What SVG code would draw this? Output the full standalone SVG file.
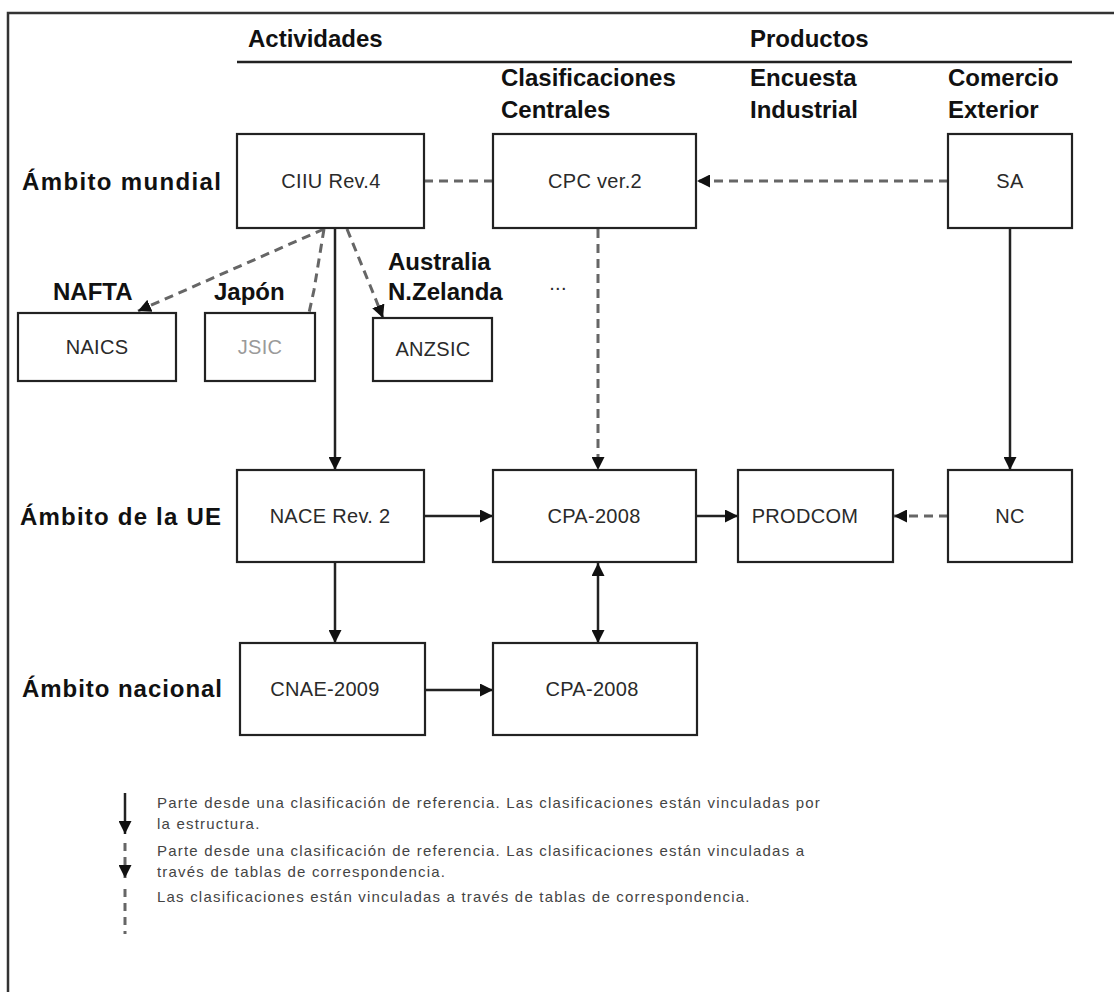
<svg xmlns="http://www.w3.org/2000/svg" width="1114" height="992" viewBox="0 0 1114 992">
<style>
.frame{stroke:#333;stroke-width:2.5;fill:none}
.box{fill:#fff;stroke:#222;stroke-width:2.2}
.nt{font-family:"Liberation Sans",Arial,sans-serif;font-size:20px;fill:#2a2a2a;text-anchor:middle;letter-spacing:0.3px}
.bl{font-family:"Liberation Sans",Arial,sans-serif;font-size:24px;font-weight:bold;fill:#111}
.lg{font-family:"Liberation Sans",Arial,sans-serif;font-size:15px;fill:#444;letter-spacing:1.2px}
.sol{stroke:#222;stroke-width:2.5;fill:none}
.dsh{stroke:#666;stroke-width:3;fill:none;stroke-dasharray:9 6}
</style>
<defs>
<marker id="ah" viewBox="0 0 10 10" refX="10" refY="5" markerWidth="13" markerHeight="13" markerUnits="userSpaceOnUse" orient="auto-start-reverse">
<path d="M0,0 L10,5 L0,10 z" fill="#111"/>
</marker>
</defs>
<rect width="1114" height="992" fill="#fff"/>
<g id="frame">
<path class="frame" d="M8,992 L8,13 L1114,13"/>
</g>
<g id="headers">
<text class="bl" x="248" y="47">Actividades</text>
<text class="bl" x="750" y="47">Productos</text>
<line x1="237" y1="62" x2="1072" y2="62" stroke="#222" stroke-width="2.5"/>
<text class="bl" x="501" y="86">Clasificaciones</text>
<text class="bl" x="501" y="118">Centrales</text>
<text class="bl" x="750" y="86">Encuesta</text>
<text class="bl" x="750" y="118">Industrial</text>
<text class="bl" x="948" y="86">Comercio</text>
<text class="bl" x="948" y="118">Exterior</text>
</g>
<g id="row-labels">
<text class="bl" x="22" y="190" textLength="199">Ámbito mundial</text>
<text class="bl" x="20" y="525" textLength="201">Ámbito de la UE</text>
<text class="bl" x="22" y="697" textLength="200">Ámbito nacional</text>
<text class="bl" x="53" y="300">NAFTA</text>
<text class="bl" x="214" y="300">Japón</text>
<text class="bl" x="388" y="270">Australia</text>
<text class="bl" x="388" y="300">N.Zelanda</text>
<text class="nt" x="558" y="290">...</text>
</g>
<g id="connectors">
<line class="dsh" x1="424" y1="181" x2="493" y2="181"/>
<line class="dsh" x1="948" y1="181" x2="697" y2="181" marker-end="url(#ah)"/>
<line class="dsh" x1="598" y1="229" x2="598" y2="470" marker-end="url(#ah)"/>
<line class="sol" x1="1010" y1="229" x2="1010" y2="470" marker-end="url(#ah)"/>
<line class="sol" x1="335" y1="229" x2="335" y2="470" marker-end="url(#ah)"/>
<line class="dsh" x1="324" y1="229" x2="138" y2="311" marker-end="url(#ah)"/>
<path class="dsh" d="M324,229 L314,290 L309,313"/>
<path class="dsh" d="M347,229 L376,300 L383,318" marker-end="url(#ah)"/>
<line class="sol" x1="424" y1="516" x2="493" y2="516" marker-end="url(#ah)"/>
<line class="sol" x1="696" y1="516" x2="738" y2="516" marker-end="url(#ah)"/>
<line class="dsh" x1="948" y1="516" x2="894" y2="516" marker-end="url(#ah)"/>
<line class="sol" x1="335" y1="562" x2="335" y2="643" marker-end="url(#ah)"/>
<line class="sol" x1="598" y1="563" x2="598" y2="643" marker-start="url(#ah)" marker-end="url(#ah)"/>
<line class="sol" x1="425" y1="690" x2="493" y2="690" marker-end="url(#ah)"/>
</g>
<g id="n-ciiu"><rect class="box" x="237" y="134" width="187" height="94"/><text class="nt" x="331" y="188">CIIU Rev.4</text></g>
<g id="n-cpc"><rect class="box" x="493" y="134" width="203" height="94"/><text class="nt" x="595" y="188">CPC ver.2</text></g>
<g id="n-sa"><rect class="box" x="948" y="134" width="124" height="94"/><text class="nt" x="1010" y="188">SA</text></g>
<g id="n-naics"><rect class="box" x="18" y="313" width="158" height="68"/><text class="nt" x="97" y="354">NAICS</text></g>
<g id="n-jsic"><rect class="box" x="205" y="313" width="110" height="68"/><text class="nt" x="260" y="354" style="fill:#9a9a9a">JSIC</text></g>
<g id="n-anzsic"><rect class="box" x="373" y="318" width="119" height="63"/><text class="nt" x="433" y="356">ANZSIC</text></g>
<g id="n-nace"><rect class="box" x="237" y="470" width="187" height="92"/><text class="nt" x="330" y="523">NACE Rev. 2</text></g>
<g id="n-cpa-ue"><rect class="box" x="493" y="470" width="203" height="92"/><text class="nt" x="594" y="523">CPA-2008</text></g>
<g id="n-prodcom"><rect class="box" x="738" y="470" width="155" height="92"/><text class="nt" x="805" y="523">PRODCOM</text></g>
<g id="n-nc"><rect class="box" x="948" y="470" width="124" height="92"/><text class="nt" x="1010" y="523">NC</text></g>
<g id="n-cnae"><rect class="box" x="240" y="643" width="185" height="92"/><text class="nt" x="325" y="696">CNAE-2009</text></g>
<g id="n-cpa-nac"><rect class="box" x="493" y="643" width="204" height="92"/><text class="nt" x="592" y="696">CPA-2008</text></g>
<g id="legend">
<line class="sol" x1="125" y1="793" x2="125" y2="834" marker-end="url(#ah)"/>
<text class="lg" x="157" y="808">Parte desde una clasificación de referencia. Las clasificaciones están vinculadas por</text>
<text class="lg" x="157" y="829">la estructura.</text>
<path class="dsh" d="M125,843 L125,878" style="stroke-dasharray:8 6" marker-end="url(#ah)"/>
<text class="lg" x="157" y="856">Parte desde una clasificación de referencia. Las clasificaciones están vinculadas a</text>
<text class="lg" x="157" y="877">través de tablas de correspondencia.</text>
<path class="dsh" d="M125,889 L125,934" style="stroke-dasharray:8 6"/>
<text class="lg" x="157" y="902">Las clasificaciones están vinculadas a través de tablas de correspondencia.</text>
</g>
</svg>
